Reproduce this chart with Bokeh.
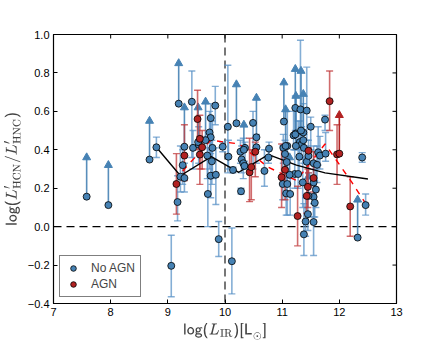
import math
from bokeh.plotting import figure
from bokeh.models import (Span, Legend, LegendItem, FixedTicker, CustomJSTickFormatter)
from bokeh.embed import file_html
from bokeh.resources import INLINE

# ---------------- data ----------------
# No-AGN sources with two-sided error bars
noagn_x = [8.80, 9.06, 9.17, 9.22, 9.26, 9.29, 9.42, 9.44, 9.54, 9.69, 9.70, 9.73, 9.75, 9.75,
           9.75, 9.77, 9.78, 9.83, 9.84, 9.89, 9.96, 10.05, 10.06, 10.12, 10.14, 10.27, 10.28,
           10.29, 10.32, 10.34, 10.35, 10.49, 10.55, 10.69, 10.76, 10.77, 11.01, 11.02, 11.05,
           11.07, 11.08, 11.09, 11.09, 11.14, 11.20, 11.22, 11.23, 11.24, 11.28, 11.30, 11.31,
           11.32, 11.34, 11.36, 11.37, 11.38, 11.38, 11.41, 11.43, 11.43, 11.45, 11.46, 11.50,
           11.55, 11.55, 11.55, 11.55, 11.57, 11.59, 11.61, 11.63, 11.66, 11.75, 11.76, 12.40,
           12.46]
noagn_y = [0.413, -0.204, 0.128, 0.260, 0.320, 0.253, 0.650, 0.410, 0.427, 0.370, 0.170, 0.490,
           0.565, 0.465, 0.265, 0.340, 0.410, 0.630, 0.270, -0.065, 0.416, 0.520, 0.364, -0.180,
           0.295, 0.390, 0.184, 0.350, 0.330, 0.316, 0.410, 0.540, 0.413, 0.290, 0.360, 0.406,
           0.222, 0.410, 0.378, 0.173, 0.336, 0.420, 0.222, 0.170, 0.475, 0.274, 0.618, 0.485,
           0.274, 0.364, 0.440, 0.610, 0.427, 0.230, 0.490, 0.410, -0.040, 0.027, 0.604, 0.338,
           0.065, 0.368, 0.520, 0.330, 0.230, 0.155, 0.024, 0.124, 0.193, 0.322, 0.387, 0.370,
           0.557, 0.380, 0.360, 0.112]
noagn_lo = [0.360, -0.365, 0.030, 0.180, 0.220, 0.180, 0.360, 0.300, 0.330, 0.250, 0.000, 0.300,
            0.380, 0.350, 0.150, 0.220, 0.250, 0.530, 0.115, -0.155, 0.390, 0.280, 0.300, -0.350,
            0.280, 0.330, 0.170, 0.280, 0.250, 0.300, 0.330, 0.300, 0.330, 0.210, 0.330, 0.370,
            0.140, 0.330, 0.300, 0.060, 0.220, 0.350, 0.060, 0.060, 0.400, 0.200, 0.500, 0.400,
            0.200, 0.280, 0.350, 0.450, 0.360, 0.100, 0.400, 0.330, -0.150, -0.050, 0.450, 0.250,
            -0.020, 0.280, 0.400, 0.240, 0.120, 0.050, -0.150, 0.050, 0.100, 0.230, 0.320, 0.300,
            0.500, 0.340, 0.335, 0.060]
noagn_hi = [0.466, -0.045, 0.265, 0.420, 0.400, 0.330, 0.810, 0.500, 0.520, 0.470, 0.410, 0.600,
            0.640, 0.570, 0.400, 0.450, 0.550, 0.730, 0.410, 0.027, 0.440, 0.840, 0.450, -0.007,
            0.310, 0.450, 0.200, 0.420, 0.460, 0.340, 0.440, 0.600, 0.480, 0.400, 0.400, 0.440,
            0.420, 0.480, 0.450, 0.300, 0.430, 0.600, 0.350, 0.250, 0.600, 0.400, 0.680, 0.680,
            0.550, 0.450, 0.550, 0.970, 0.520, 0.360, 0.640, 0.480, 0.120, 0.150, 0.830, 0.420,
            0.220, 0.450, 0.570, 0.420, 0.330, 0.250, 0.120, 0.240, 0.300, 0.420, 0.520, 0.470,
            0.580, 0.490, 0.385, 0.170]

# No-AGN lower limits (value and arrow tip)
noagn_lim_x = [7.58, 7.96, 8.68, 9.19, 9.29, 9.53, 9.66, 10.20, 10.33, 10.55, 11.03, 11.06,
               11.13, 11.23, 11.24, 11.33, 11.37, 11.46, 12.32]
noagn_lim_y = [0.156, 0.112, 0.349, 0.640, 0.416, 0.440, 0.450, 0.538, 0.400, 0.465, 0.547,
               0.420, 0.270, 0.480, 0.420, 0.500, 0.450, 0.160, -0.057]
noagn_lim_tip = [0.36, 0.32, 0.55, 0.85, 0.62, 0.62, 0.65, 0.74, 0.53, 0.67, 0.75, 0.61,
                 0.36, 0.82, 0.68, 0.81, 0.69, 0.26, 0.14]

# AGN sources with two-sided error bars
agn_x = [9.15, 9.29, 9.52, 9.56, 9.56, 9.60, 10.43, 10.46, 10.53, 10.99, 11.05, 11.27, 11.43,
         11.45, 11.46, 11.55, 11.83, 11.96, 12.19]
agn_y = [0.222, 0.370, 0.560, 0.457, 0.375, 0.413, 0.283, 0.310, 0.390, 0.257, 0.296, 0.055,
         0.160, 0.207, 0.395, 0.253, 0.653, 0.376, 0.105]
agn_lo = [0.065, 0.240, 0.400, 0.300, 0.220, 0.300, 0.130, 0.140, 0.260, 0.100, 0.140, -0.100,
          0.070, 0.100, 0.280, 0.180, 0.500, 0.220, -0.050]
agn_hi = [0.380, 0.530, 0.710, 0.580, 0.470, 0.500, 0.460, 0.400, 0.440, 0.430, 0.380, 0.210,
          0.400, 0.300, 0.410, 0.390, 0.810, 0.530, 0.260]

# AGN lower limits
agn_lim_x = [12.00]
agn_lim_y = [0.380]
agn_lim_tip = [0.58]

# running medians
med_all_x = [8.80, 9.22, 9.76, 10.24, 10.76, 11.25, 11.75, 12.50]
med_all_y = [0.413, 0.265, 0.364, 0.283, 0.375, 0.320, 0.280, 0.248]
med_agn_x = [9.26, 9.75, 10.25, 10.75, 11.25, 11.75, 12.22, 12.46]
med_agn_y = [0.290, 0.450, 0.430, 0.310, 0.240, 0.430, 0.230, 0.120]

x_ticks = [7, 8, 9, 10, 11, 12, 13]
y_ticks = [-0.4, -0.2, 0.0, 0.2, 0.4, 0.6, 0.8, 1.0]
x_lim = (7, 13)
y_lim = (-0.4, 1.0)

# ---------------- styling ----------------
BLUE = "#4682B4"
BLUE_BAR = "#5b93c7"
RED = "#B22222"
RED_BAR = "#c0393b"
FONT = "Liberation Sans"

p = figure(frame_width=343, frame_height=269, x_range=x_lim, y_range=y_lim,
           output_backend="svg", toolbar_location=None,
           min_border_left=47, min_border_right=37, min_border_top=34, min_border_bottom=35)
p.background_fill_color = "white"
p.border_fill_color = "white"
p.xgrid.visible = False
p.ygrid.visible = False
p.outline_line_color = "black"
p.outline_line_width = 1.2

# error bars: No AGN
p.segment(noagn_x, noagn_lo, noagn_x, noagn_hi, line_color=BLUE_BAR, line_width=1.6, line_alpha=0.75)
p.scatter(noagn_x, noagn_lo, marker="dash", size=7, line_color=BLUE_BAR, line_width=1.4, line_alpha=0.75)
p.scatter(noagn_x, noagn_hi, marker="dash", size=7, line_color=BLUE_BAR, line_width=1.4, line_alpha=0.75)
# lower limits: No AGN
p.segment(noagn_lim_x, noagn_lim_y, noagn_lim_x, noagn_lim_tip, line_color=BLUE, line_width=1.6, line_alpha=0.9)
p.scatter(noagn_lim_x, noagn_lim_tip, marker="triangle", size=8, fill_color=BLUE, line_color=BLUE)

# error bars: AGN
p.segment(agn_x, agn_lo, agn_x, agn_hi, line_color=RED_BAR, line_width=1.6, line_alpha=0.75)
p.scatter(agn_x, agn_lo, marker="dash", size=7, line_color=RED_BAR, line_width=1.4, line_alpha=0.75)
p.scatter(agn_x, agn_hi, marker="dash", size=7, line_color=RED_BAR, line_width=1.4, line_alpha=0.75)
p.segment(agn_lim_x, agn_lim_y, agn_lim_x, agn_lim_tip, line_color=RED, line_width=1.6)
p.scatter(agn_lim_x, agn_lim_tip, marker="triangle", size=8, fill_color=RED, line_color=RED)

# reference lines
p.add_layout(Span(location=10, dimension="height", line_color="#555555", line_width=1.6,
                  line_dash="8 5", level="underlay"))
p.add_layout(Span(location=0, dimension="width", line_color="black", line_width=1.4,
                  line_dash="8 5", level="underlay"))

# medians
p.line(med_all_x, med_all_y, line_color="black", line_width=1.4)
p.line(med_agn_x, med_agn_y, line_color="red", line_width=1.4, line_dash="6 6")

# legend renderers: small markers hidden under the first point of each sample
leg_blue = p.scatter(noagn_x[:1], noagn_y[:1], size=5, fill_color=BLUE, line_color="black",
                     line_width=0.8)
leg_red = p.scatter(agn_x[:1], agn_y[:1], size=5, fill_color=RED, line_color="black",
                    line_width=0.8)

# points
p.scatter(noagn_x + noagn_lim_x, noagn_y + noagn_lim_y, size=7, fill_color=BLUE,
          line_color="black", line_width=0.8)
p.scatter(agn_x + agn_lim_x, agn_y + agn_lim_y, size=7, fill_color=RED,
          line_color="black", line_width=0.8)

# inward ticks on the top and right frame edges (mirror of the main axes)
p.scatter(x_ticks, [y_lim[1]] * len(x_ticks), marker="dash", angle=math.pi / 2, size=8,
          line_color="black", line_width=1)
p.scatter([x_lim[1]] * len(y_ticks), y_ticks, marker="dash", size=8,
          line_color="black", line_width=1)

# axes
for ax in (p.xaxis[0], p.yaxis[0]):
    ax.major_tick_in = 4
    ax.major_tick_out = 0
    ax.minor_tick_line_color = None
    ax.axis_line_color = "black"
    ax.major_tick_line_color = "black"
    ax.major_label_text_font = FONT
    ax.major_label_text_color = "black"
    ax.major_label_text_font_size = "11px"
    ax.major_label_standoff = 4
    ax.axis_label_text_font_size = "12.5px"
    ax.axis_label_standoff = 4
    ax.axis_label_text_font_style = "normal"

p.xaxis.ticker = FixedTicker(ticks=x_ticks)
p.yaxis.ticker = FixedTicker(ticks=y_ticks)
p.yaxis.formatter = CustomJSTickFormatter(
    code="return (tick < -1e-9 ? '\u2212' : '') + Math.abs(tick).toFixed(1);")
p.xaxis.formatter = CustomJSTickFormatter(code="return Math.round(tick).toString();")

p.xaxis.axis_label = r"$$\textsf{log(}L_{\rm IR}\textsf{)[L}_{\odot}\textsf{]}$$"
p.yaxis.axis_label = r"$$\textsf{log(}L'_{\rm HCN}/L'_{\rm HNC}\textsf{)}$$"

legend = Legend(items=[LegendItem(label="No AGN", renderers=[leg_blue]),
                       LegendItem(label="AGN", renderers=[leg_red])],
                location="bottom_left")
legend.border_line_color = "black"
legend.border_line_width = 1.2
legend.label_text_font = FONT
legend.label_text_font_size = "12px"
legend.glyph_width = 16
legend.glyph_height = 14
legend.label_standoff = 10
legend.padding = 5
legend.spacing = 2
legend.margin = 6
legend.background_fill_alpha = 1.0
p.add_layout(legend)

open("out.html", "w").write(file_html(p, INLINE))
